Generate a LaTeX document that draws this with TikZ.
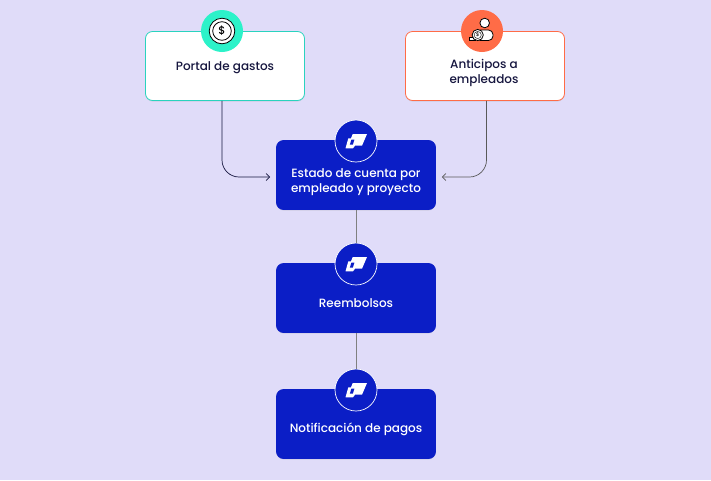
\documentclass[tikz,border=0pt]{standalone}
\usepackage{fontspec}
\setmainfont{Poppins Medium}
\usetikzlibrary{calc,positioning,shadows,arrows.meta}
\definecolor{fondo}{HTML}{E0DCF9}
\definecolor{azul}{HTML}{0B1EC6}
\definecolor{turquesa}{HTML}{2CF2C9}
\definecolor{borde}{HTML}{2AD3BE}
\definecolor{naranja}{HTML}{FF6C47}
\definecolor{tinta}{HTML}{16163F}
\tikzset{
    caja/.style={minimum width=159pt, minimum height=69pt, rounded corners=7pt, inner sep=0pt, line width=0.8pt,
        drop shadow={shadow xshift=0pt, shadow yshift=-1pt, opacity=0.18}},
    cajablanca/.style={caja, fill=white},
    cajaazul/.style={caja, fill=azul, draw=azul},
    texto/.style={font=\fontsize{12}{15.5}\selectfont, align=center, inner sep=0pt},
    icono/.style={circle, minimum size=42pt, inner sep=0pt},
    logo/.pic={
        \fill[white] (-3.3,-7) -- (11,-7) -- (6,4.7) -- (-1,4.7) -- (-3,7.3) -- (-10.5,7.3) -- (-7.7,-2.7) -- (-5,-2.7) -- cycle;
        \fill[azul] (-4.6,-1.5) -- (-1.6,-1.5) -- (-3.1,3.5) -- (-6.1,3.5) -- cycle;
    },
    linea/.style={line width=0.7pt},
    flecha/.style={linea, -{Straight Barb[length=3.5pt,width=7pt]}, rounded corners=17pt, shorten >=6pt},
}
\begin{document}
\begin{tikzpicture}[x=1pt,y=-1pt]
    \fill[fondo] (0,0) rectangle (711,480);

    % cajas
    \node[cajablanca, draw=borde] (portal) at (225,66) {};
    \node[cajablanca, draw=naranja] (anticipos) at (485,66) {};
    \node[cajaazul] (estado) at (356,175) {};
    \node[cajaazul] (reembolsos) at (356,298) {};
    \node[cajaazul] (notificacion) at (356,424) {};

    % textos
    \node[texto, tinta] (portaltxt) at (225,68) {Portal de gastos};
    \node[texto, tinta] (anticipostxt) at (484,73) {Anticipos a\\empleados};
    \node[texto, white] (estadotxt) at (356,182) {Estado de cuenta por\\empleado y proyecto};
    \node[texto, white] (reembolsostxt) at (356,303) {Reembolsos};
    \node[texto, white] (notificaciontxt) at (356,429) {Notificación de pagos};

    % iconos
    \node[icono, fill=turquesa] (portalico) at (222,31) {};
    \node[icono, fill=naranja] (anticiposico) at (482,31) {};
    \node[icono, fill=azul, draw=white, line width=0.7pt] (estadoico) at (356,141) {};
    \node[icono, fill=azul, draw=white, line width=0.7pt] (reembolsosico) at (356,264) {};
    \node[icono, fill=azul, draw=white, line width=0.7pt] (notificacionico) at (356,390) {};
    \pic at (estadoico) {logo};
    \pic at (reembolsosico) {logo};
    \pic at (notificacionico) {logo};

    \draw[black, fill=white, line width=0.8pt] (portalico) circle (12.8);
    \draw[black, line width=0.8pt] (portalico) circle (9.3);
    \node[font=\fontsize{11}{11}\selectfont, inner sep=0pt] (dolar) at (portalico) {\$};

    \draw[black, fill=white, line width=0.8pt] (484.7,23) circle (4.8);
    \draw[black, fill=white, line width=0.8pt, rounded corners=4.5pt] (476,30) rectangle (493,40.5);
    \draw[black, fill=white, line width=0.6pt] (469,37) rectangle (475,40.5);
    \draw[black, fill=white, line width=0.8pt] (477.7,35) circle (5.6);
    \draw[black, line width=0.4pt] (477.7,35) circle (3.6);
    \node[font=\fontsize{5}{5}\selectfont, inner sep=0pt] (monedas) at (477.7,35) {\$};

    % conectores
    \coordinate (portalsal) at (portalico |- portal.south);
    \coordinate (anticipossal) at ($(anticipos.south)+(1.5,0)$);
    \coordinate (estadoizq) at ($(estado.west)+(0,2)$);
    \coordinate (estadoder) at ($(estado.east)+(0,2)$);
    \draw[flecha, tinta] (portalsal) |- (estadoizq);
    \draw[flecha, black!65] (anticipossal) |- (estadoder);
    \draw[linea, black!50] (estado.south) -- (reembolsosico.north);
    \draw[linea, black!50] (reembolsos.south) -- (notificacionico.north);
\end{tikzpicture}
\end{document}
